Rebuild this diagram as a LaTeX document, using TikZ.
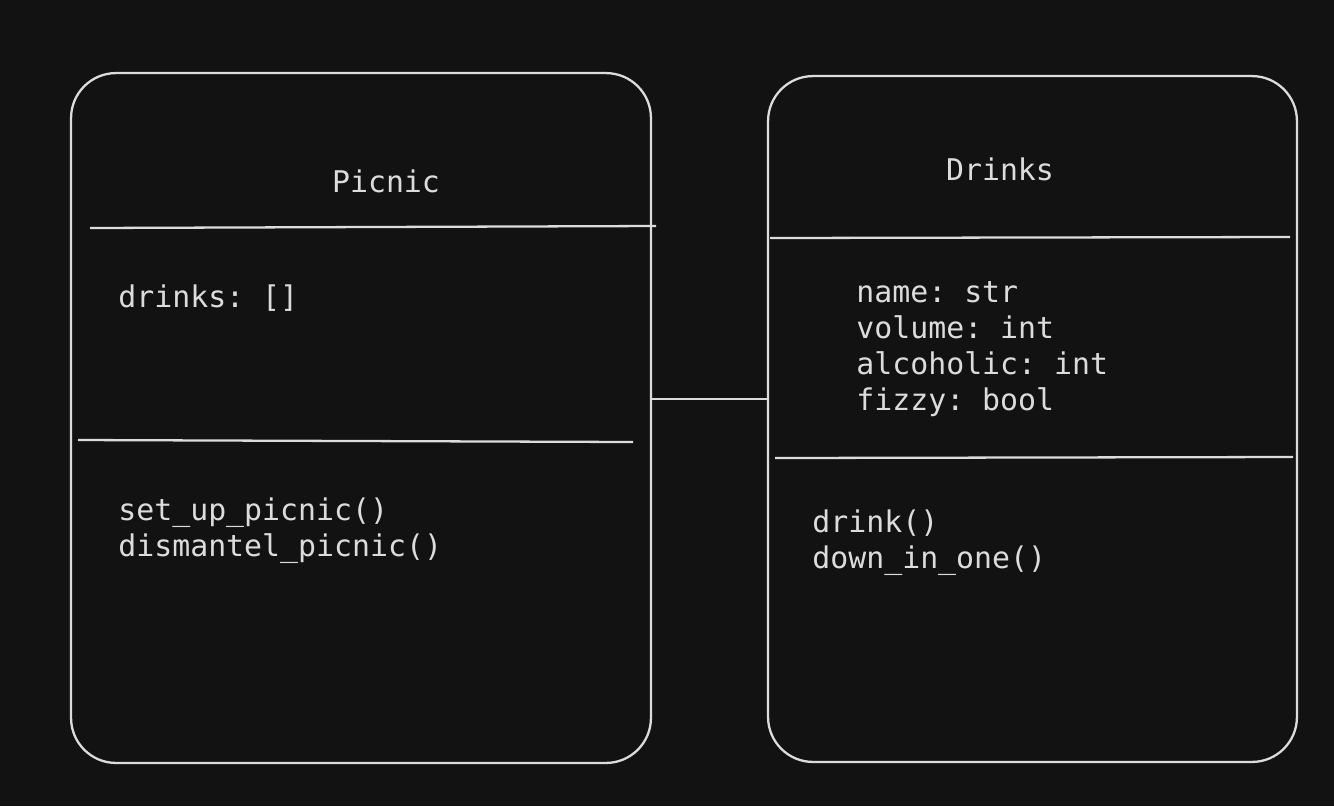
\documentclass[tikz,border=0pt]{standalone}
\usepackage{fontspec}
\setmonofont{DejaVu Sans Mono}
\usetikzlibrary{positioning}

\definecolor{bgdark}{HTML}{121212}
\definecolor{chalk}{HTML}{DCDCDC}

\tikzset{
    classbox/.style={draw=chalk, line width=1.3pt, rounded corners=0.9cm, inner sep=0pt, outer sep=0pt},
    divider/.style={draw=chalk, line width=1.3pt},
    code/.style={text=chalk, font=\ttfamily\fontsize{17}{20.5}\selectfont, inner sep=0pt, anchor=base west},
    title/.style={code, anchor=base}
}

\begin{document}
\begin{tikzpicture}[x=0.02cm, y=-0.02cm]
        % background and page size
        \fill[bgdark] (0,0) rectangle (1334,806);
        \useasboundingbox (0,0) rectangle (1334,806);

        % the two classes
        \node[classbox, minimum width=11.6cm, minimum height=13.8cm] (picnic) at (361,418) {};
        \node[classbox, minimum width=10.58cm, minimum height=13.72cm] (drinks) at (1032.5,419) {};

        % compartments
        \draw[divider] (90,228) -- (656,226);
        \draw[divider] (78,440) -- (633,442);
        \draw[divider] (770,238) -- (1290,237);
        \draw[divider] (775,458) -- (1293,457);

        % association
        \coordinate (link) at (700,399);
        \draw[divider] (picnic.east |- link) -- (drinks.west |- link);

        % names
        \node[title] (picnicname) at (386,192) {Picnic};
        \node[title] (drinksname) at (1000,180) {Drinks};

        % picnic members
        \node[code] (picnicattr) at (118,307) {drinks: []};
        \node[code] (setup) at (118,520) {set\_up\_picnic()};
        \node[code] (dismantle) at (118,556) {dismantel\_picnic()};

        % drinks members
        \foreach \attr [count=\i] in {name: str, volume: int, alcoholic: int, fizzy: bool}
            \node[code] (drinksattr\i) at (856,{302+36.3*(\i-1)}) {\attr};
        \node[code] (drink) at (812,532) {drink()};
        \node[code] (downinone) at (812,568) {down\_in\_one()};
    \end{tikzpicture}
\end{document}
